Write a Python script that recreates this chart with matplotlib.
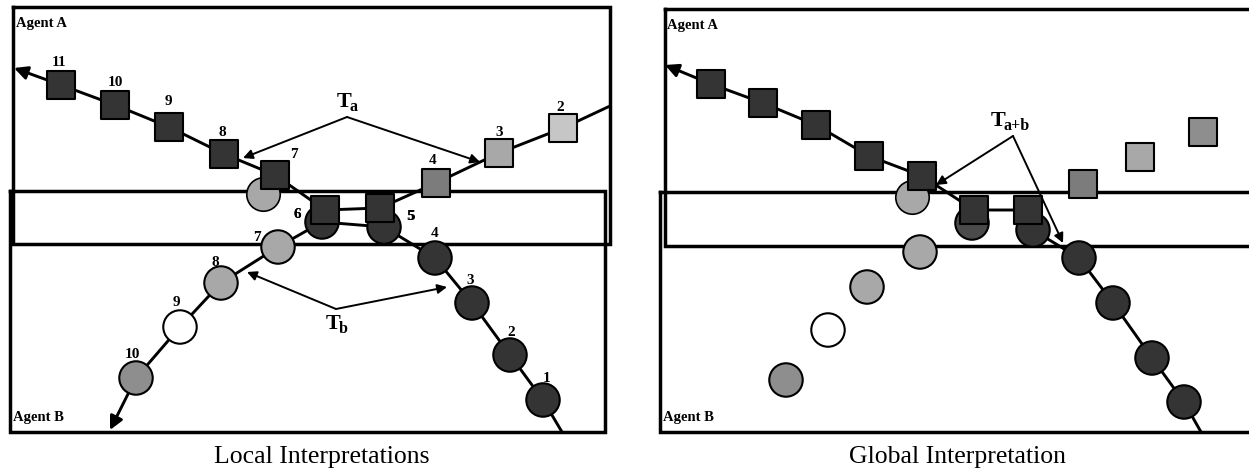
import matplotlib
matplotlib.use("Agg")
import matplotlib.pyplot as plt

SERIF = ["Liberation Serif", "DejaVu Serif"]

# ---------------- data (diagram node positions, pixel space) ----------------
# Left panel: Agent A track (squares), labels 11 .. 2
a_left_labels = ["11", "10", "9", "8", "7", "6", "5", "4", "3", "2"]
a_left_x = [61, 115, 169, 224, 275, 325, 380, 436, 499, 563]
a_left_y = [85, 105, 127, 154, 175, 210, 208, 183, 153, 128]
a_left_shade = ["d", "d", "d", "d", "d", "d", "d", "m", "l", "xl"]
a_left_lab_x = [59, 115, 168, 222, 294, 297, 411, 433, 499, 560]
a_left_lab_y = [62, 82, 101, 132, 155, 214, 217, 161, 132, 107]
a_left_tip = (14, 68)
a_left_end = (610, 106)

# Left panel: Agent B track (circles), labels 1 .. 10
b_left_labels = ["1", "2", "3", "4", "5", "6", "7", "8", "9", "10"]
b_left_x = [543, 510, 472, 435, 384, 322, 278, 221, 180, 136]
b_left_y = [400, 355, 303, 258, 227, 222, 247, 283, 327, 378]
b_left_shade = ["d", "d", "d", "d", "d", "d", "l", "l", "w", "lm"]
b_left_lab_x = [547, 511, 470, 435, 410, 297, 257, 215, 176, 132]
b_left_lab_y = [378, 332, 280, 233, 217, 214, 237, 262, 302, 354]
b_left_start = (562, 432)
b_left_tip = (110, 430)
extra_left_circle = (263, 194)

# Right panel: Agent A squares (global), connected part + unconnected part
a_right_x = [711, 763, 816, 869, 922, 974, 1028, 1083, 1140, 1203]
a_right_y = [84, 103, 125, 156, 176, 210, 210, 184, 157, 132]
a_right_shade = ["d", "d", "d", "d", "d", "d", "d", "m", "l", "lm"]
a_right_tip = (665, 65)
a_right_n_linked = 7

# Right panel: Agent B circles
b_right_x = [1184, 1152, 1113, 1079, 1033, 972, 920, 867, 828, 786]
b_right_y = [402, 358, 303, 258, 230, 223, 252, 287, 330, 380]
b_right_shade = ["d", "d", "d", "d", "d", "dm", "l", "l", "w", "lm"]
b_right_n_linked = 5
b_right_start = (1201, 432)
extra_right_circle = (912, 197)

# Annotations: label position, apex, arrow targets
ta_pos, ta_apex, ta_targets = (344, 102), (347, 117), [(243, 158), (480, 162)]
tb_pos, tb_apex, tb_targets = (333, 324), (336, 309), [(247, 272), (447, 287)]
tab_pos, tab_apex, tab_targets = (998, 121), (1013, 136), [(936, 185), (1063, 243)]

# Panel frames (x0, y0, x1, y1)
frames = [(13, 7, 610, 244), (10, 191, 605, 432),
          (665, 9, 1260, 246), (660, 192, 1260, 432)]
agent_labels = [("Agent A", 16, 23), ("Agent B", 13, 418),
                ("Agent A", 667, 25), ("Agent B", 663, 418)]
titles = [("Local Interpretations", 322, 457), ("Global Interpretation", 958, 457)]

SHADES = {"d": "#343434", "dm": "#4a4a4a", "m": "#7c7c7c", "lm": "#8e8e8e",
          "l": "#a8a8a8", "xl": "#c6c6c6", "w": "#ffffff"}

SQ_S = 420
CI_S = 580
LINE_W = 2.1

fig = plt.figure(figsize=(12.49, 4.74), dpi=100)
ax = fig.add_axes([0, 0, 1, 1])
ax.set_xlim(0, 1249)
ax.set_ylim(474, 0)
ax.axis("off")

# frames
for x0, y0, x1, y1 in frames:
    ax.plot([x0, x1, x1, x0, x0], [y0, y0, y1, y1, y0], color="black", lw=2.5,
            solid_joinstyle="miter", zorder=1)

def arrow(start, end, lw=1.4, ms=14, z=6):
    ax.annotate("", xy=end, xytext=start,
                arrowprops=dict(arrowstyle="-|>", color="black", lw=lw,
                                mutation_scale=ms, shrinkA=0, shrinkB=0),
                zorder=z)

# ---------------- left panel ----------------
ax.plot(a_left_x + [a_left_end[0]], a_left_y + [a_left_end[1]], color="black",
        lw=LINE_W, zorder=2)
arrow((a_left_x[0], a_left_y[0]), a_left_tip, lw=LINE_W, ms=20, z=2)

ax.plot([b_left_start[0]] + b_left_x, [b_left_start[1]] + b_left_y, color="black",
        lw=LINE_W, zorder=2)
arrow((b_left_x[-1], b_left_y[-1]), b_left_tip, lw=LINE_W, ms=20, z=2)

ax.scatter([extra_left_circle[0]], [extra_left_circle[1]], s=CI_S, marker="o",
           c=SHADES["l"], edgecolors="black", linewidths=1.2, zorder=3)
ax.scatter(b_left_x, b_left_y, s=CI_S, marker="o",
           c=[SHADES[k] for k in b_left_shade], edgecolors="black",
           linewidths=1.5, zorder=3)
ax.scatter(a_left_x, a_left_y, s=SQ_S, marker="s",
           c=[SHADES[k] for k in a_left_shade], edgecolors="black",
           linewidths=1.5, zorder=4)

for t, x, y in zip(a_left_labels, a_left_lab_x, a_left_lab_y):
    ax.text(x, y, t, ha="center", va="center", fontsize=11, weight="bold",
            family=SERIF, zorder=7)
for t, x, y in zip(b_left_labels, b_left_lab_x, b_left_lab_y):
    ax.text(x, y, t, ha="center", va="center", fontsize=11, weight="bold",
            family=SERIF, zorder=7)

# ---------------- right panel ----------------
n = a_right_n_linked
m = b_right_n_linked
ax.plot([a_right_x[0]] + a_right_x[:n] + b_right_x[m - 1::-1] + [b_right_start[0]],
        [a_right_y[0]] + a_right_y[:n] + b_right_y[m - 1::-1] + [b_right_start[1]],
        color="black", lw=LINE_W, zorder=2)
arrow((a_right_x[0], a_right_y[0]), a_right_tip, lw=LINE_W, ms=20, z=2)

ax.scatter([extra_right_circle[0]], [extra_right_circle[1]], s=CI_S, marker="o",
           c=SHADES["l"], edgecolors="black", linewidths=1.2, zorder=3)
ax.scatter(b_right_x, b_right_y, s=CI_S, marker="o",
           c=[SHADES[k] for k in b_right_shade], edgecolors="black",
           linewidths=1.5, zorder=3)
ax.scatter(a_right_x, a_right_y, s=SQ_S, marker="s",
           c=[SHADES[k] for k in a_right_shade], edgecolors="black",
           linewidths=1.5, zorder=4)

# ---------------- annotations ----------------
def tlabel(pos, sub):
    ax.text(pos[0], pos[1], "T", ha="center", va="center", fontsize=16,
            weight="bold", family=SERIF, zorder=7)
    ax.text(pos[0] + 6, pos[1] + 5, sub, ha="left", va="center", fontsize=11.5,
            weight="bold", family=SERIF, zorder=7)

for pos, apex, targets, sub in [(ta_pos, ta_apex, ta_targets, "a"),
                                 (tb_pos, tb_apex, tb_targets, "b"),
                                 (tab_pos, tab_apex, tab_targets, "a+b")]:
    tlabel(pos, sub)
    for tgt in targets:
        arrow(apex, tgt, lw=1.4, ms=14, z=6)

for t, x, y in agent_labels:
    ax.text(x, y, t, ha="left", va="center", fontsize=10.5, weight="bold",
            family=SERIF, zorder=7)
for t, x, y in titles:
    ax.text(x, y, t, ha="center", va="center", fontsize=18.5, family=SERIF,
            zorder=7)

fig.savefig("out.png", dpi=100)
